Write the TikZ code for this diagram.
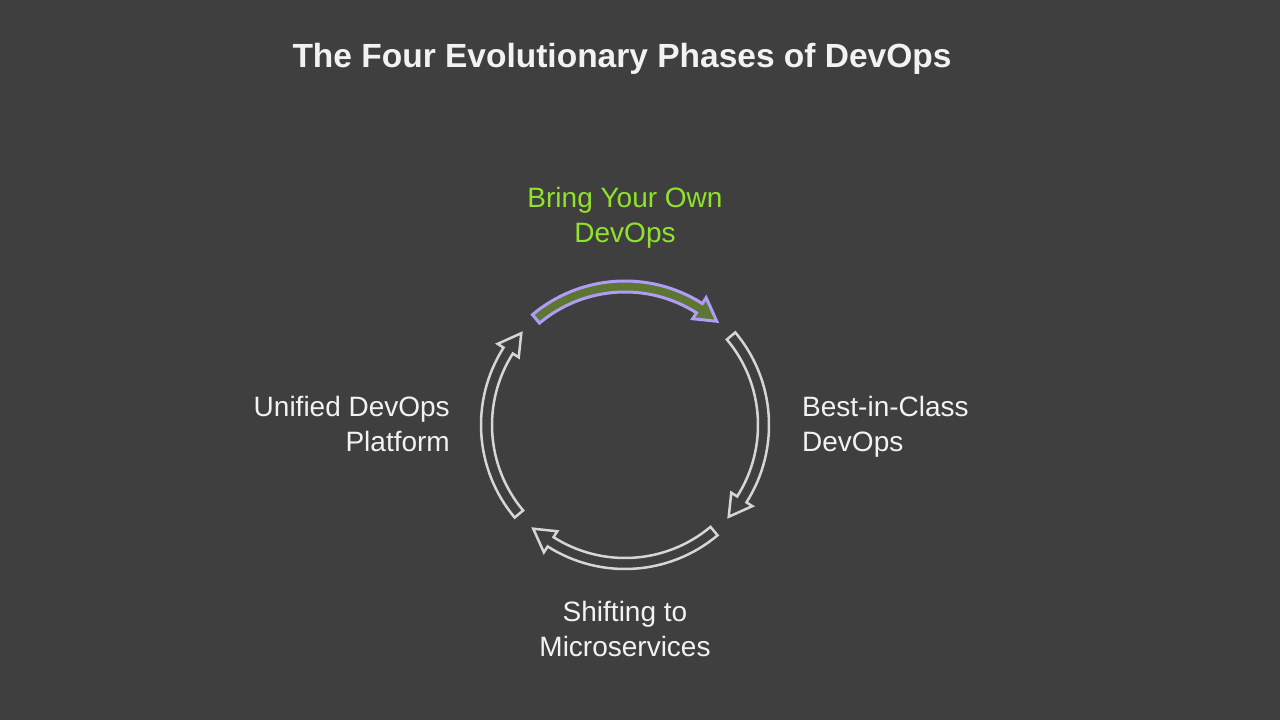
\documentclass[tikz,border=0pt]{standalone}
\usepackage{fontspec}
\setmainfont{Liberation Sans}
\definecolor{bgcol}{HTML}{3F3F3F}
\definecolor{limetext}{HTML}{90E22A}
\definecolor{olivefill}{HTML}{5E7634}
\definecolor{lavender}{HTML}{B09CF4}
\definecolor{palegray}{HTML}{D6D6D6}
\definecolor{labeltext}{HTML}{F2F2F2}

\tikzset{
  phaselabel/.style={font=\fontsize{28}{35}\selectfont, text=labeltext, inner sep=0pt},
  phasearrow/.style={draw=palegray, line width=2.5pt, line join=miter, fill=bgcol},
  activearrow/.style={draw=lavender, line width=3pt, line join=miter, fill=olivefill}
}

\begin{document}
\begin{tikzpicture}[x=1pt,y=1pt]
\fill[bgcol] (0,0) rectangle (1280,720);
\useasboundingbox (0,0) rectangle (1280,720);

\path (622,652) node (title) [anchor=base, inner sep=0pt, text=labeltext, font=\bfseries\fontsize{33.5}{40}\selectfont] {The Four Evolutionary Phases of DevOps};

\coordinate (c) at (625,295);

% cycle arrows
\draw [activearrow, shift={(c)}] (130:144) arc [start angle=130, end angle=57.5, radius=144] -- (57.5:151) -- (48.5:138.5) -- (57.5:126) -- (57.5:133) arc [start angle=57.5, end angle=130, radius=133] -- cycle;
\draw [phasearrow, shift={(c)}] (40:144) arc [start angle=40, end angle=-32.5, radius=144] -- (-32.5:151) -- (-41.5:138.5) -- (-32.5:126) -- (-32.5:133) arc [start angle=-32.5, end angle=40, radius=133] -- cycle;
\draw [phasearrow, shift={(c)}] (-50:144) arc [start angle=-50, end angle=-122.5, radius=144] -- (-122.5:151) -- (-131.5:138.5) -- (-122.5:126) -- (-122.5:133) arc [start angle=-122.5, end angle=-50, radius=133] -- cycle;
\draw [phasearrow, shift={(c)}] (-140:144) arc [start angle=-140, end angle=-212.5, radius=144] -- (-212.5:151) -- (-221.5:138.5) -- (-212.5:126) -- (-212.5:133) arc [start angle=-212.5, end angle=-140, radius=133] -- cycle;

% phase labels
\path (625,477) node (byo) [phaselabel, anchor=base, align=center, text=limetext] {Bring Your Own\\DevOps};
\path (802,268) node (bic) [phaselabel, anchor=base west, align=left] {Best-in-Class\\DevOps};
\path (625,63) node (micro) [phaselabel, anchor=base, align=center] {Shifting to\\Microservices};
\path (450,268) node (unified) [phaselabel, anchor=base east, align=right] {Unified DevOps\\Platform};

\end{tikzpicture}
\end{document}
